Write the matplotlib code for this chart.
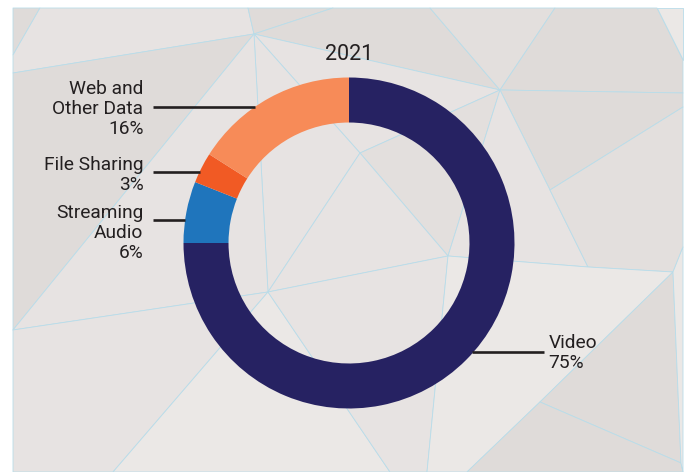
import numpy as np
import matplotlib
matplotlib.use("Agg")
import matplotlib.pyplot as plt
from matplotlib.patches import Polygon

# ---- data ----
title = "2021"
categories = ["Video", "Streaming\nAudio", "File Sharing", "Web and\nOther Data"]
values = [75, 6, 3, 16]
colors = ["#262262", "#1f75bc", "#f15a24", "#f78b58"]

plt.rcParams['font.family'] = ['Roboto', 'DejaVu Sans']
TXT = "#231f20"

W, H = 686, 472
fig = plt.figure(figsize=(W / 100, H / 100), dpi=100, facecolor="white")

# ---- decorative low-poly background (pixel coordinates) ----
bg = fig.add_axes([0, 0, 1, 1], zorder=0)
bg.set_xlim(0, W)
bg.set_ylim(H, 0)
bg.axis("off")
DARK, MID, LIGHT, PALE = "#dfdbd9", "#e3dfdd", "#e7e3e2", "#ebe8e6"
V = dict(a=(13, 8), b=(40, 8), c=(248, 8), d=(333, 8), e=(430, 8), f=(555, 8),
         g=(657, 8), h=(683, 8), i=(683, 60), j=(683, 93), k=(683, 107),
         A=(254, 34), B=(500, 90), G=(360, 153), F=(550, 190), C=(448, 256),
         H=(588, 267), E=(673, 272), Ep=(683, 247), D=(268, 292), N=(540, 402),
         M=(681, 463), L1=(13, 55), L2=(13, 73), L3=(13, 330), Z=(683, 472),
         b1=(13, 472), b2=(113, 472), b3=(390, 472), b4=(427, 472), b5=(467, 472))
polys = [
    ("a b L1", DARK), ("b c A L2 L1", LIGHT), ("L2 A L3", DARK), ("c d A", DARK),
    ("d e B A", DARK), ("e f B", MID), ("f g i j B", DARK), ("g h i", PALE),
    ("A B G", LIGHT), ("A G D", LIGHT), ("G B C", MID), ("G C D", LIGHT),
    ("B j k F", DARK), ("B F H C", LIGHT), ("F k Ep E H", MID), ("L3 A D", LIGHT),
    ("L3 D b2 b1", LIGHT), ("D b2 b3", PALE), ("D C b4 b3", LIGHT),
    ("C H E N b5 b4", PALE), ("E M N", DARK), ("N M Z b5", DARK), ("E Ep Z M", PALE),
]
for names, col in polys:
    pts = [V[n] for n in names.split()]
    bg.add_patch(Polygon(pts, closed=True, facecolor=col, edgecolor="#b9dce9",
                         linewidth=0.6, joinstyle="round"))

# ---- donut ----
cx, cy, R = 349, 243, 165.5
ax = fig.add_axes([0, 0, 1, 1], zorder=1)
ax.patch.set_alpha(0)

ring = 0.272
ax.pie(values, colors=colors, startangle=90, counterclock=False, radius=1.0,
       wedgeprops=dict(width=ring, linewidth=0))
ax.set_aspect("auto")
ax.set_xlim(-cx / R, (W - cx) / R)
ax.set_ylim(-(H - cy) / R, cy / R)
ax.axis("off")

ax.text(0, 1.14, title, ha="center", va="center", fontsize=15.5, color=TXT)

fs = 13.8
LW = 1.9
# label specs: (category index, leader y, text y, side)
specs = [(3, 0.824, 0.812, "left"), (2, 0.43, 0.41, "left"),
         (1, 0.139, 0.06, "left"), (0, -0.66, -0.664, "right")]
for idx, ly, ty, side in specs:
    label = f"{categories[idx]}\n{values[idx]}%"
    xr = np.sqrt(1 - ly ** 2)
    if side == "left":
        ax.plot([-1.182, -xr], [ly, ly], color=TXT, lw=LW, solid_capstyle="butt")
        ax.text(-1.242, ty, label, ha="right", va="center", fontsize=fs,
                color=TXT, linespacing=1.15, multialignment="right")
    else:
        ax.plot([xr - 0.01, 1.18], [ly, ly], color=TXT, lw=LW, solid_capstyle="butt")
        ax.text(1.206, ty, label, ha="left", va="center", fontsize=fs,
                color=TXT, linespacing=1.15, multialignment="left")

fig.savefig("out.png", dpi=100, facecolor="white")
